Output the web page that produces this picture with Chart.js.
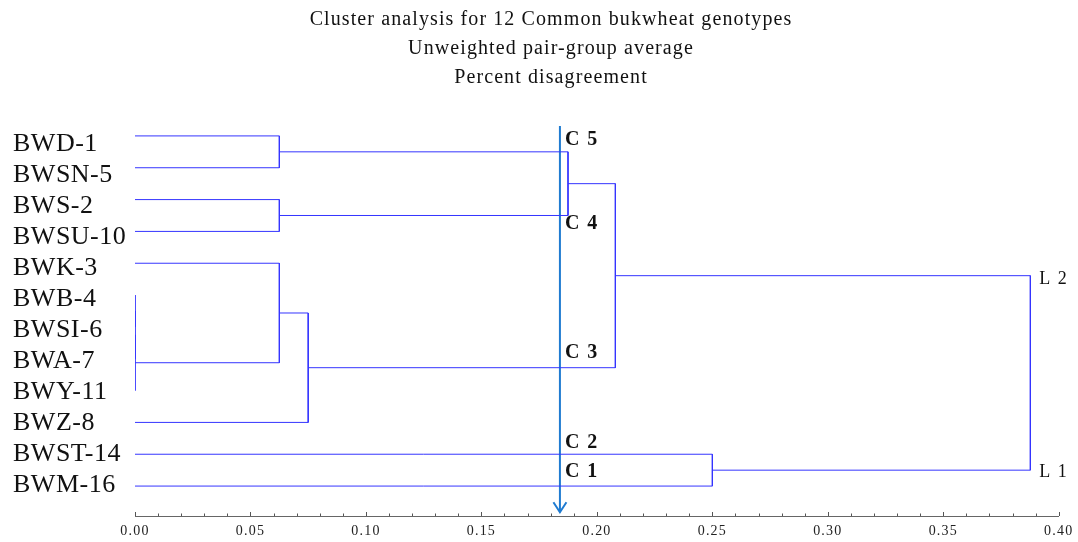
<!DOCTYPE html>
<html>
<head>
<meta charset="utf-8">
<title>Cluster analysis for 12 Common bukwheat genotypes</title>
<script src="https://cdn.jsdelivr.net/npm/chart.js@4/dist/chart.umd.min.js"></script>
<style>
  html, body { margin: 0; padding: 0; background: #fff; }
  #wrap { width: 1078px; height: 542px; }
</style>
</head>
<body>
<div id="wrap"><canvas id="dendro" width="1078" height="542"></canvas></div>
<script>
// Genotypes, top to bottom
const genotypes = ['BWD-1', 'BWSN-5', 'BWS-2', 'BWSU-10', 'BWK-3', 'BWB-4',
                   'BWSI-6', 'BWA-7', 'BWY-11', 'BWZ-8', 'BWST-14', 'BWM-16'];

// Linkage: merge k creates node 12 + k from mergeLeft[k] and mergeRight[k]
const mergeLeft  = [5, 12, 13, 0, 2, 4, 17, 15, 19, 10, 20];
const mergeRight = [6, 7, 8, 1, 3, 14, 9, 16, 18, 11, 21];
const mergeDist  = [0, 0, 0, 0.0625, 0.0625, 0.0625, 0.075, 0.1875, 0.208, 0.25, 0.3877];

const titleLines = ['Cluster analysis for 12 Common bukwheat genotypes',
                    'Unweighted pair-group average',
                    'Percent disagreement'];
const xTicks = [0, 0.05, 0.10, 0.15, 0.20, 0.25, 0.30, 0.35, 0.40];

// Cut line and its cluster tags (rows are in leaf units)
const cutDist = 0.184;
const cutFrom = -0.31;
const cutTo = 11.82;
const clusterNames = ['C 5', 'C 4', 'C 3', 'C 2', 'C 1'];
const clusterRows  = [0.13, 2.77, 6.82, 9.65, 10.56];
const levelNames = ['L 2', 'L 1'];
const levelRows  = [4.49, 10.58];

const LINE_BLUE = '#3535ff';
const ARROW_BLUE = '#1f7bd1';
const SERIF = '"Liberation Serif", "Times New Roman", serif';

// Build node positions: leaves sit on their row, merges sit halfway between children
const nodeY = genotypes.map((g, i) => i);
const nodeH = genotypes.map(() => 0);
mergeDist.forEach((d, k) => {
    nodeY.push((nodeY[mergeLeft[k]] + nodeY[mergeRight[k]]) / 2);
    nodeH.push(d);
});

const datasets = mergeDist.map((d, k) => {
    const a = mergeLeft[k], b = mergeRight[k];
    return {
        data: [
            { x: nodeH[a], y: nodeY[a] },
            { x: d, y: nodeY[a] },
            { x: d, y: nodeY[b] },
            { x: nodeH[b], y: nodeY[b] }
        ],
        borderColor: LINE_BLUE,
        borderWidth: 1
    };
});

// Cut line drawn last so it sits on top
datasets.push({
    data: [{ x: cutDist, y: cutFrom }, { x: cutDist, y: cutTo }],
    borderColor: ARROW_BLUE,
    borderWidth: 2
});

// Letter spacing for tick labels
const spacing = { x: '1.2px', yl: '0.5px' };
const labelSpacing = {
    id: 'labelSpacing',
    afterUpdate(chart) {
        Object.keys(spacing).forEach(id => {
            const s = chart.scales[id];
            if (!s || s._spaced) return;
            const orig = s.drawLabels;
            s.drawLabels = function(area) {
                this.ctx.save();
                this.ctx.letterSpacing = spacing[id];
                orig.call(this, area);
                this.ctx.restore();
            };
            s._spaced = true;
        });
    }
};

// Titles, minor ticks, arrow head and tags
const decorations = {
    id: 'decorations',
    afterDatasetsDraw(chart) {
        const ctx = chart.ctx;
        const xs = chart.scales.x;
        const ys = chart.scales.y;
        const area = chart.chartArea;

        ctx.save();
        ctx.fillStyle = '#111';
        ctx.textAlign = 'center';
        ctx.textBaseline = 'alphabetic';
        ctx.font = '20px ' + SERIF;
        ctx.letterSpacing = '1.1px';
        titleLines.forEach((t, i) => ctx.fillText(t, 551, 25 + i * 29));

        // tick marks above the axis line
        ctx.strokeStyle = '#555';
        ctx.lineWidth = 1;
        ctx.beginPath();
        for (let i = 0; i < xTicks.length; i++) {
            const px = Math.round(xs.getPixelForValue(xTicks[i])) + 0.5;
            ctx.moveTo(px, area.bottom);
            ctx.lineTo(px, area.bottom - 4);
            if (i < xTicks.length - 1) {
                const step = (xTicks[i + 1] - xTicks[i]) / 5;
                for (let m = 1; m < 5; m++) {
                    const mx = Math.round(xs.getPixelForValue(xTicks[i] + m * step)) + 0.5;
                    ctx.moveTo(mx, area.bottom);
                    ctx.lineTo(mx, area.bottom - 2.5);
                }
            }
        }
        ctx.stroke();

        // arrow head
        const ax = xs.getPixelForValue(cutDist);
        const ay = ys.getPixelForValue(cutTo);
        ctx.strokeStyle = ARROW_BLUE;
        ctx.lineWidth = 2;
        ctx.beginPath();
        ctx.moveTo(ax - 6.5, ay - 10);
        ctx.lineTo(ax, ay);
        ctx.lineTo(ax + 6.5, ay - 10);
        ctx.stroke();

        // cluster tags
        ctx.fillStyle = '#111';
        ctx.textAlign = 'left';
        ctx.textBaseline = 'middle';
        ctx.font = 'bold 20px ' + SERIF;
        ctx.letterSpacing = '1.5px';
        clusterNames.forEach((c, i) => ctx.fillText(c, ax + 5, ys.getPixelForValue(clusterRows[i])));

        // level tags
        const lx = xs.getPixelForValue(mergeDist[mergeDist.length - 1]) + 9;
        ctx.font = '18px ' + SERIF;
        ctx.letterSpacing = '1.5px';
        levelNames.forEach((l, i) => ctx.fillText(l, lx, ys.getPixelForValue(levelRows[i])));
        ctx.restore();
    }
};

new Chart(document.getElementById('dendro'), {
    type: 'scatter',
    data: { datasets: datasets },
    options: {
        responsive: false,
        animation: false,
        devicePixelRatio: 1,
        showLine: true,
        layout: { padding: { left: 13, right: 19, top: 120, bottom: 0 } },
        elements: {
            point: { radius: 0, hoverRadius: 0 },
            line: { tension: 0, fill: false }
        },
        plugins: {
            legend: { display: false },
            tooltip: { enabled: false },
            title: { display: false }
        },
        scales: {
            x: {
                type: 'linear',
                position: 'bottom',
                min: 0,
                max: 0.4,
                afterBuildTicks: s => { s.ticks = xTicks.map(v => ({ value: v })); },
                afterFit: s => { s.height = 26; },
                grid: { display: false, drawTicks: false },
                border: { display: true, color: '#666', width: 1 },
                ticks: {
                    autoSkip: false,
                    maxRotation: 0,
                    padding: 7,
                    color: '#222',
                    font: { family: SERIF, size: 14 },
                    callback: v => Number(v).toFixed(2)
                }
            },
            y: {
                type: 'linear',
                reverse: true,
                min: -0.5,
                max: 11.94,
                display: false
            },
            yl: {
                type: 'linear',
                position: 'left',
                reverse: true,
                min: -0.774,
                max: 12,
                afterBuildTicks: s => { s.ticks = genotypes.map((g, i) => ({ value: i })); },
                afterFit: s => { s.width = 122; },
                grid: { display: false, drawTicks: false },
                border: { display: false },
                ticks: {
                    autoSkip: false,
                    crossAlign: 'far',
                    padding: 0,
                    color: '#111',
                    font: { family: SERIF, size: 26 },
                    callback: v => genotypes[v]
                }
            }
        }
    },
    plugins: [labelSpacing, decorations]
});
</script>
</body>
</html>
